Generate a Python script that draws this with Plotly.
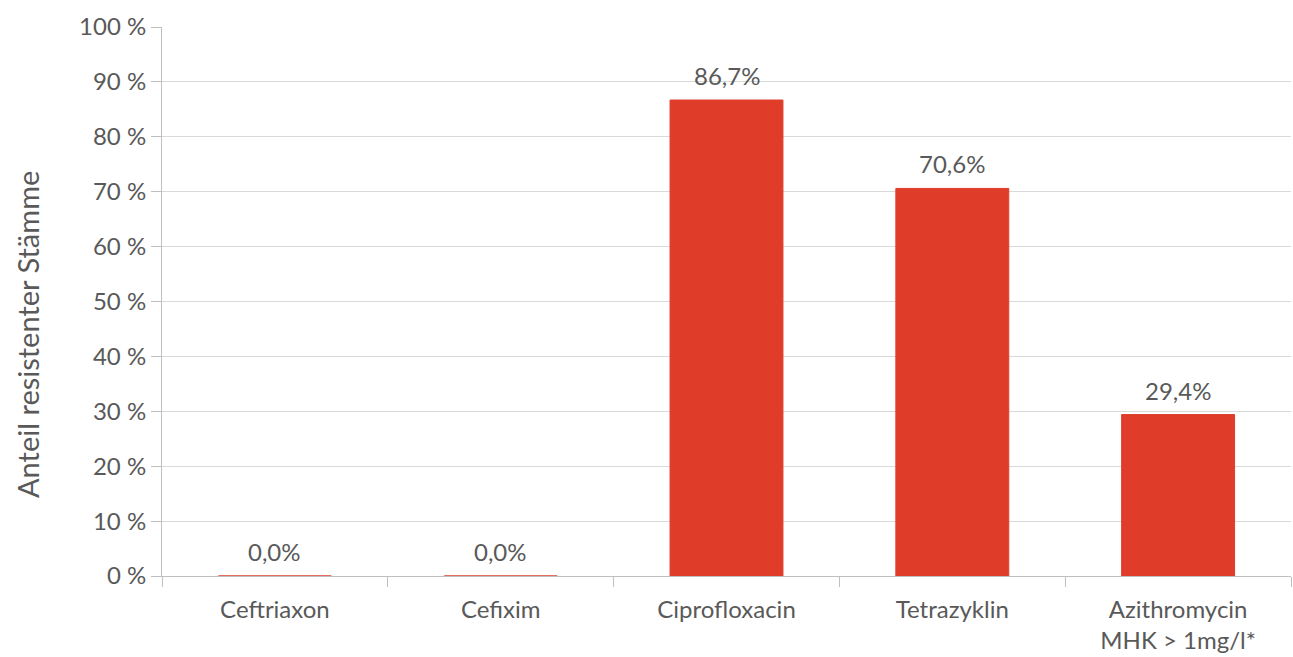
import plotly.graph_objects as go

categories = ["Ceftriaxon", "Cefixim", "Ciprofloxacin", "Tetrazyklin", "Azithromycin<br>MHK > 1mg/l*"]
values = [0.0, 0.0, 86.7, 70.6, 29.4]
labels = [f"{v:.1f}%".replace(".", ",") for v in values]
y_ticks = list(range(0, 101, 10))
y_ticktext = [f"{t} %" for t in y_ticks]

FONT = "Lato, Open Sans, sans-serif"
GREY = "#595959"
BAR = "#E03C2A"
FS = 24

fig = go.Figure(go.Bar(
    x=categories, y=values,
    marker=dict(color=BAR, line=dict(color=BAR, width=1)),
    width=0.5,
))

annotations = [dict(x=c, y=v, text=t, xref="x", yref="y", showarrow=False,
                    yanchor="bottom", xanchor="center", yshift=8,
                    font=dict(size=FS, color=GREY, family=FONT))
               for c, v, t in zip(categories, values, labels)]
annotations.append(dict(text="Anteil resistenter Stämme", xref="paper", yref="paper",
                        x=(27 - 162) / 1129, y=(576 - 335) / 549, xanchor="center", yanchor="middle",
                        textangle=-90, showarrow=False,
                        font=dict(size=29, color=GREY, family=FONT)))

fig.update_layout(
    width=1293, height=657,
    margin=dict(l=162, r=2, t=27, b=81),
    plot_bgcolor="white", paper_bgcolor="white",
    font=dict(family=FONT, color=GREY, size=FS),
    showlegend=False,
    xaxis=dict(showline=True, linecolor="#BFBFBF", linewidth=1,
               ticks="outside", tickson="boundaries", ticklen=10, tickcolor="#BFBFBF",
               tickfont=dict(size=FS, color=GREY), showgrid=False, ticklabelstandoff=12),
    yaxis=dict(range=[0, 100], tickvals=y_ticks, ticktext=y_ticktext,
               showline=True, linecolor="#BFBFBF", linewidth=1,
               ticks="outside", ticklen=10, tickcolor="#BFBFBF",
               gridcolor="#D9D9D9", gridwidth=1, zeroline=False,
               tickfont=dict(size=FS, color=GREY)),
    annotations=annotations,
)

fig.write_html("out.html")
